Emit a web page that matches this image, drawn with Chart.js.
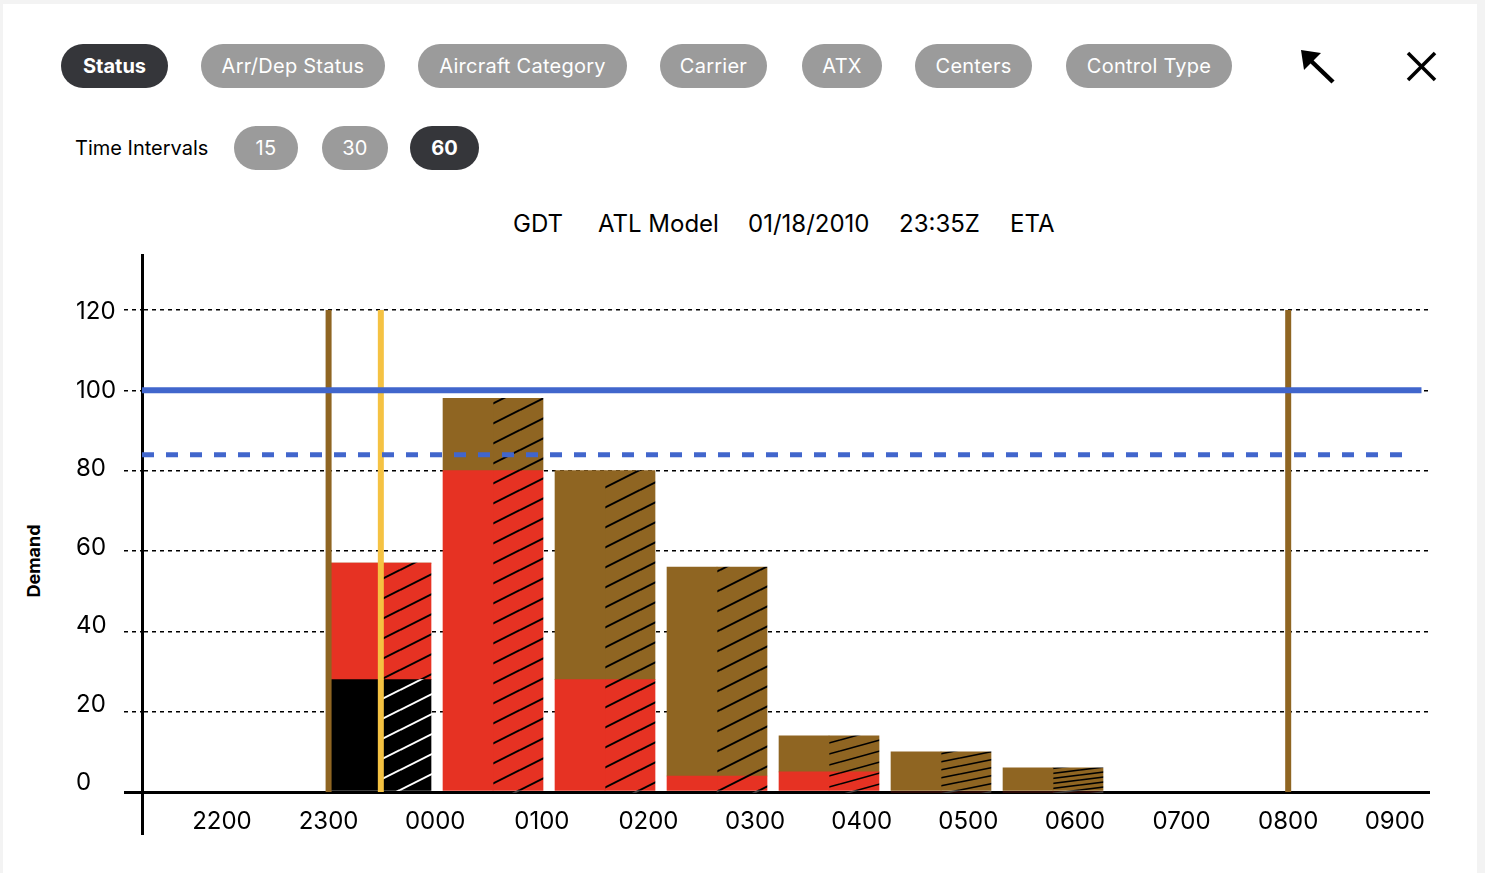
<!DOCTYPE html>
<html>
<head>
<meta charset="utf-8">
<script src="https://cdn.jsdelivr.net/npm/chart.js@4"></script>
<style>
  html, body { margin: 0; padding: 0; background: #f3f3f3; }
  body { position: relative; width: 1485px; height: 873px; overflow: hidden; font-family: Inter, sans-serif; color: #000; }
  .panel { position: absolute; left: 3px; top: 4px; width: 1474px; height: 869px; background: #fff; }
  .pill { position: absolute; height: 44px; line-height: 44px; text-align: center; border-radius: 22px; background: #9b9b9b; color: #fff; font-size: 20px; letter-spacing: 0.25px; white-space: nowrap; }
  .pill.on { background: #35363a; font-weight: 700; letter-spacing: 0; }
  .tabs .pill { top: 44px; }
  .intervals .pill { top: 126px; }
  .intervals .label { position: absolute; left: 75px; top: 134px; font-size: 20px; line-height: 28px; white-space: nowrap; }
  .title span { position: absolute; top: 209px; font-size: 24px; line-height: 30px; white-space: nowrap; }
  .ytitle { position: absolute; left: 33px; top: 561px; transform: translate(-50%, -50%) rotate(-90deg); font-size: 18px; font-weight: 700; white-space: nowrap; }
  #demand { position: absolute; left: 0; top: 190px; }
  svg.icons { position: absolute; left: 0; top: 0; }
</style>
</head>
<body>
<div class="panel"></div>

<div class="tabs">
  <div class="pill on" style="left:61px;width:107px">Status</div>
  <div class="pill" style="left:201px;width:184px">Arr/Dep Status</div>
  <div class="pill" style="left:418px;width:209px">Aircraft Category</div>
  <div class="pill" style="left:660px;width:107px">Carrier</div>
  <div class="pill" style="left:802px;width:80px">ATX</div>
  <div class="pill" style="left:915px;width:117px">Centers</div>
  <div class="pill" style="left:1066px;width:166px">Control Type</div>
</div>

<svg class="icons" width="1485" height="120">
  <line x1="1333" y1="82" x2="1309" y2="59" stroke="#000" stroke-width="4.5"/>
  <polygon points="1301,50 1321,53 1304,70" fill="#000"/>
  <line x1="1408" y1="53" x2="1435" y2="80" stroke="#000" stroke-width="3.5"/>
  <line x1="1435" y1="53" x2="1408" y2="80" stroke="#000" stroke-width="3.5"/>
</svg>

<div class="intervals">
  <div class="label">Time Intervals</div>
  <div class="pill" style="left:234px;width:64px">15</div>
  <div class="pill" style="left:322px;width:66px">30</div>
  <div class="pill on" style="left:410px;width:69px">60</div>
</div>

<div class="title">
  <span style="left:513px">GDT</span>
  <span style="left:598px">ATL Model</span>
  <span style="left:748px">01/18/2010</span>
  <span style="left:899px">23:35Z</span>
  <span style="left:1010px">ETA</span>
</div>

<div class="ytitle">Demand</div>

<canvas id="demand" width="1485" height="683"></canvas>

<script>
  // hour labels along the time axis
  const timeLabels = ['2200', '2300', '0000', '0100', '0200', '0300', '0400', '0500', '0600', '0700', '0800', '0900'];
  // one bar per hourly bin, 2300 .. 0500
  const binStarts = ['2300', '0000', '0100', '0200', '0300', '0400', '0500'];
  const arrivedCounts = [28, 0, 0, 0, 0, 0, 0];
  const activeCounts = [29, 80, 28, 4, 5, 0, 0];
  const proposedCounts = [0, 18, 52, 52, 9, 10, 6];
  const yTicks = [0, 20, 40, 60, 80, 100, 120];

  const aarRate = 100;
  const adjustedRate = 84;
  // positions on the time axis (index of timeLabels)
  const programStart = 1;
  const programEnd = 10;
  const currentTime = 1.49;

  const xMin = -0.75, xMax = 11.33;
  const aarEnd = 11.25, adjustedEnd = 11.15;

  const BLACK = '#000000';
  const RED = '#e63223';
  const BROWN = '#8f6522';
  const YELLOW = '#f5c242';
  const BLUE = '#4166cc';

  const totals = binStarts.map((_, i) => arrivedCounts[i] + activeCounts[i] + proposedCounts[i]);

  const patterns = {};
  function hatch(base, ink, h) {
    const key = base + ink + h;
    if (patterns[key]) return patterns[key];
    const w = 40;
    const c = document.createElement('canvas');
    c.width = w;
    c.height = h;
    const g = c.getContext('2d');
    g.fillStyle = base;
    g.fillRect(0, 0, w, h);
    g.strokeStyle = ink;
    g.lineWidth = h < 12 ? 1.6 : 2;
    for (let k = -1; k <= 1; k++) {
      g.beginPath();
      g.moveTo(0, h + k * h);
      g.lineTo(w, k * h);
      g.stroke();
    }
    patterns[key] = g.createPattern(c, 'repeat');
    return patterns[key];
  }
  const hatchFill = (base, ink) => (ctx) =>
    hatch(base, ink, Math.max(4, Math.round(Math.min(20, totals[ctx.dataIndex] * 0.8))));

  const toPoints = (arr) => arr.map((v, i) => ({ x: i, y: v }));

  function barSet(label, values, fill, stack) {
    return { type: 'bar', label, data: toPoints(values), backgroundColor: fill, xAxisID: 'xb', stack, order: 1 };
  }
  function lineSet(label, points, color, width, dash) {
    return {
      type: 'line', label, data: points, borderColor: color, borderWidth: width, borderDash: dash || [],
      pointRadius: 0, fill: false, xAxisID: 'x', stack: label, borderCapStyle: 'butt',
    };
  }

  const gridDash = (c) => (c.tick && c.tick.value === 0 ? [] : [4, 4]);

  Chart.defaults.font.family = 'Inter, sans-serif';
  Chart.defaults.color = '#000';

  new Chart(document.getElementById('demand'), {
    data: {
      datasets: [
        lineSet('AAR', [{ x: xMin, y: aarRate }, { x: aarEnd, y: aarRate }], BLUE, 6),
        lineSet('Adjusted', [{ x: xMin, y: adjustedRate }, { x: adjustedEnd, y: adjustedRate }], BLUE, 5, [12, 12]),
        lineSet('Now', [{ x: currentTime, y: 0 }, { x: currentTime, y: 120 }], YELLOW, 6),
        lineSet('Start', [{ x: programStart, y: 0 }, { x: programStart, y: 120 }], BROWN, 6),
        lineSet('End', [{ x: programEnd, y: 0 }, { x: programEnd, y: 120 }], BROWN, 6),
        barSet('Arrived', arrivedCounts, BLACK, 'solid'),
        barSet('Active', activeCounts, RED, 'solid'),
        barSet('Proposed', proposedCounts, BROWN, 'solid'),
        barSet('Arrived (est)', arrivedCounts, hatchFill(BLACK, '#ffffff'), 'hatched'),
        barSet('Active (est)', activeCounts, hatchFill(RED, BLACK), 'hatched'),
        barSet('Proposed (est)', proposedCounts, hatchFill(BROWN, BLACK), 'hatched'),
      ],
    },
    options: {
      responsive: false,
      animation: false,
      layout: { padding: { left: 76, top: 65, right: 55, bottom: 40 } },
      datasets: { bar: { barThickness: 50, borderWidth: 0 } },
      plugins: { legend: { display: false }, tooltip: { enabled: false } },
      scales: {
        x: {
          type: 'linear',
          position: { y: 0 },
          min: xMin,
          max: xMax,
          offset: false,
          afterBuildTicks: (s) => { s.ticks = timeLabels.map((_, i) => ({ value: i })); },
          grid: { display: false, drawTicks: false, offset: false },
          border: { display: false },
          ticks: { callback: (v) => timeLabels[v], font: { size: 24 }, padding: 15, maxRotation: 0, autoSkip: false },
        },
        xb: {
          type: 'linear',
          display: false,
          offset: false,
          grid: { offset: false },
          min: -2.134,
          max: 9.366,
          afterBuildTicks: (s) => { s.ticks = binStarts.map((_, i) => ({ value: i })); },
        },
        y: {
          stacked: true,
          position: 'left',
          weight: 0,
          min: -10.2,
          max: 133.7,
          afterBuildTicks: (s) => { s.ticks = yTicks.map((v) => ({ value: v })); },
          afterFit: (s) => { s.width = 18; },
          grid: {
            color: '#000',
            lineWidth: (c) => (c.tick && c.tick.value === 0 ? 3 : 1.5),
            tickLength: 18,
            tickBorderDash: gridDash,
          },
          border: { display: true, color: '#000', width: 3, dash: gridDash },
          ticks: { display: false },
        },
        // the value labels sit on their own slightly tighter scale
        yLabels: {
          type: 'linear',
          axis: 'y',
          position: 'left',
          weight: 1,
          min: -12.75,
          max: 134.5,
          afterBuildTicks: (s) => { s.ticks = yTicks.map((v) => ({ value: v })); },
          afterFit: (s) => { s.width = 48; },
          grid: { display: false, drawTicks: false },
          border: { display: false },
          ticks: { crossAlign: 'far', font: { size: 24 }, padding: 0 },
        },
      },
    },
  });
</script>
</body>
</html>
